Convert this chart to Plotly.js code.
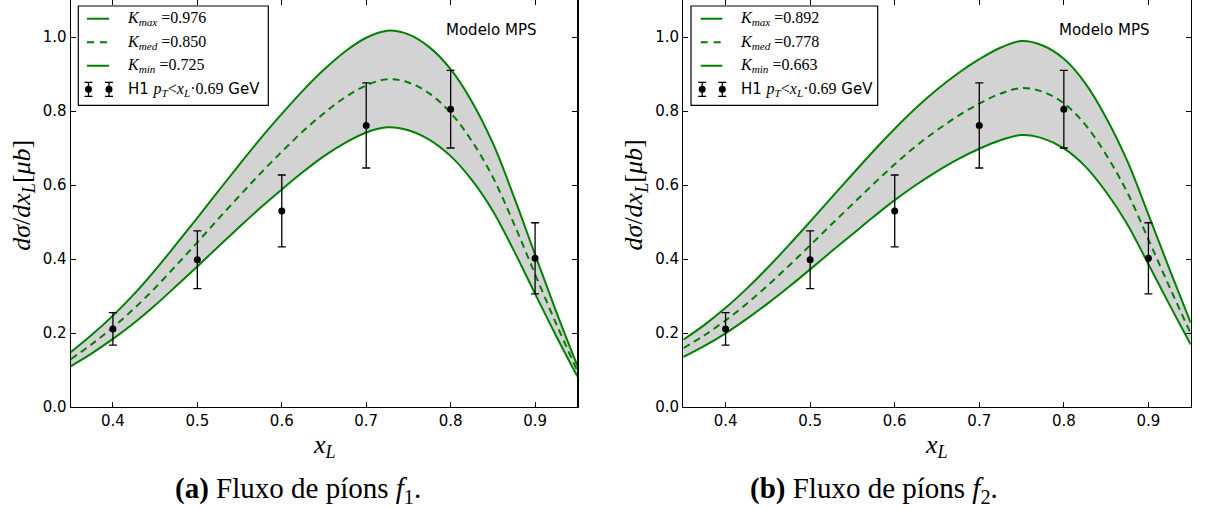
<!DOCTYPE html>
<html>
<head>
<meta charset="utf-8">
<script src="https://cdn.plot.ly/plotly-3.0.1.min.js"></script>
<style>html,body{margin:0;padding:0;background:#fff;}#chart{width:1207px;height:508px;}</style>
</head>
<body>
<div id="chart"></div>
<script>
// ---- data ----
const xGrid = [0.35,0.375,0.40,0.425,0.45,0.475,0.50,0.525,0.55,0.575,0.60,0.625,0.65,0.675,0.70,0.725,0.75,0.775,0.80,0.825,0.85,0.875,0.90,0.925,0.95];
const upperA = [0.148,0.195,0.247,0.305,0.370,0.440,0.511,0.584,0.656,0.726,0.792,0.855,0.912,0.961,0.998,1.017,1.007,0.972,0.913,0.826,0.713,0.568,0.412,0.258,0.112];
const medA   = [0.129,0.170,0.215,0.266,0.322,0.383,0.445,0.509,0.571,0.632,0.690,0.745,0.794,0.837,0.869,0.886,0.877,0.847,0.795,0.719,0.621,0.495,0.359,0.225,0.098];
const lowerA = [0.110,0.145,0.184,0.227,0.275,0.327,0.380,0.434,0.487,0.539,0.588,0.635,0.678,0.714,0.742,0.756,0.748,0.722,0.678,0.614,0.530,0.422,0.306,0.192,0.083];
const upperB = [0.182,0.222,0.268,0.320,0.377,0.438,0.501,0.565,0.629,0.692,0.752,0.808,0.858,0.902,0.940,0.971,0.989,0.977,0.941,0.876,0.782,0.665,0.520,0.372,0.228];
const medB   = [0.159,0.194,0.234,0.279,0.329,0.382,0.437,0.493,0.548,0.603,0.656,0.705,0.748,0.787,0.820,0.847,0.862,0.852,0.821,0.764,0.682,0.580,0.453,0.324,0.199];
const lowerB = [0.135,0.165,0.199,0.238,0.280,0.325,0.372,0.420,0.467,0.514,0.559,0.600,0.637,0.670,0.698,0.721,0.735,0.726,0.699,0.651,0.581,0.494,0.386,0.276,0.169];
const h1X = [0.4,0.5,0.6,0.7,0.8,0.9];
const h1Y = [0.211,0.398,0.530,0.761,0.805,0.402];
const h1Err = [0.044,0.078,0.097,0.115,0.105,0.096];
const kValuesA = ['0.976','0.850','0.725'];
const kValuesB = ['0.892','0.778','0.663'];
const kNames = ['max','med','min'];
const xTicks = [0.4,0.5,0.6,0.7,0.8,0.9];
const yTicks = [0.0,0.2,0.4,0.6,0.8,1.0];
const captions = ['<b>(a)</b> Fluxo de píons <i>f</i><sub>1</sub>.', '<b>(b)</b> Fluxo de píons <i>f</i><sub>2</sub>.'];
const modelLabel = 'Modelo MPS';

// ---- geometry helpers (pixel -> paper) ----
const W = 1207, PH = 406.7;
const px = v => v / W;
const py = v => 1 - v / PH;
const GREEN = '#008000';
const SERIF = '"Liberation Serif", "DejaVu Serif", serif';
const SANS = '"DejaVu Sans", "Liberation Sans", sans-serif';

function panelTraces(xa, ya, up, md, lo) {
  return [
    {x: xGrid, y: lo, xaxis: xa, yaxis: ya, type: 'scatter', mode: 'lines', line: {color: GREEN, width: 2, shape: 'spline'}, showlegend: false, hoverinfo: 'skip'},
    {x: xGrid, y: up, xaxis: xa, yaxis: ya, type: 'scatter', mode: 'lines', fill: 'tonexty', fillcolor: '#d3d3d3', line: {color: GREEN, width: 2, shape: 'spline'}, showlegend: false},
    {x: xGrid, y: md, xaxis: xa, yaxis: ya, type: 'scatter', mode: 'lines', line: {color: GREEN, width: 2, dash: '7px,5px', shape: 'spline'}, showlegend: false},
    {x: h1X, y: h1Y, xaxis: xa, yaxis: ya, type: 'scatter', mode: 'markers', marker: {color: 'black', size: 7},
     error_y: {type: 'data', array: h1Err, visible: true, color: 'black', thickness: 1.3, width: 4}, showlegend: false}
  ];
}

const data = [].concat(panelTraces('x', 'y', upperA, medA, lowerA), panelTraces('x2', 'y2', upperB, medB, lowerB));

const axisStyle = {
  showline: true, linecolor: 'black', linewidth: 1.2, mirror: 'allticks',
  ticks: 'inside', ticklen: 5, tickwidth: 1, tickcolor: 'black',
  showgrid: false, zeroline: false, tickformat: '.1f',
  tickfont: {family: SANS, size: 15, color: 'black'}
};

const shapes = [];
const annotations = [];

function addPanelDecor(x0, x1, kVals, legBox, sampleX, textX, caption) {
  // legend box
  shapes.push({type: 'rect', xref: 'paper', yref: 'paper', x0: px(legBox[0]), x1: px(legBox[1]), y0: py(legBox[3]), y1: py(legBox[2]),
    line: {color: 'black', width: 1.2}, fillcolor: 'white', layer: 'above'});
  const rows = [18.7, 42.3, 65.7, 89.3];
  for (let i = 0; i < 3; i++) {
    shapes.push({type: 'line', xref: 'paper', yref: 'paper', x0: px(sampleX[0]), x1: px(sampleX[1]), y0: py(rows[i]), y1: py(rows[i]),
      line: {color: GREEN, width: 2, dash: i === 1 ? '7px,6px' : 'solid'}, layer: 'above'});
    annotations.push({xref: 'paper', yref: 'paper', x: px(textX), y: py(rows[i]), xanchor: 'left', yanchor: 'middle', showarrow: false,
      text: '<i>K</i><sub><i>' + kNames[i] + '</i></sub> =' + kVals[i], font: {family: SERIF, size: 16, color: 'black'}});
  }
  // data legend sample: two markers with error bars
  [sampleX[0] + 1.5, sampleX[1]].forEach(cx => {
    shapes.push({type: 'line', xref: 'paper', yref: 'paper', x0: px(cx), x1: px(cx), y0: py(rows[3] - 7), y1: py(rows[3] + 7), line: {color: 'black', width: 1.3}, layer: 'above'});
    shapes.push({type: 'line', xref: 'paper', yref: 'paper', x0: px(cx - 4), x1: px(cx + 4), y0: py(rows[3] - 7), y1: py(rows[3] - 7), line: {color: 'black', width: 1.3}, layer: 'above'});
    shapes.push({type: 'line', xref: 'paper', yref: 'paper', x0: px(cx - 4), x1: px(cx + 4), y0: py(rows[3] + 7), y1: py(rows[3] + 7), line: {color: 'black', width: 1.3}, layer: 'above'});
    shapes.push({type: 'circle', xref: 'paper', yref: 'paper', x0: px(cx - 3.5), x1: px(cx + 3.5), y0: py(rows[3] + 3.5), y1: py(rows[3] - 3.5), fillcolor: 'black', line: {color: 'black', width: 0}, layer: 'above'});
  });
  annotations.push({xref: 'paper', yref: 'paper', x: px(textX + 1), y: py(rows[3]), xanchor: 'left', yanchor: 'middle', showarrow: false,
    text: 'H1 <span style="font-family:Liberation Serif;font-size:16px"><i>p</i><sub><i>T</i></sub>&lt;<i>x</i><sub><i>L</i></sub>·0.69</span> GeV',
    font: {family: SANS, size: 15, color: 'black'}});
  // model label
  annotations.push({xref: 'paper', yref: 'paper', x: px(x1 - 86), y: py(30), xanchor: 'center', yanchor: 'middle', showarrow: false,
    text: modelLabel, font: {family: SANS, size: 15, color: 'black'}});
  // axis titles
  annotations.push({xref: 'paper', yref: 'paper', x: px((x0 + x1) / 2), y: py(446), xanchor: 'center', yanchor: 'middle', showarrow: false,
    text: '<i>x</i><sub><i>L</i></sub>', font: {family: SERIF, size: 26, color: 'black'}});
  annotations.push({xref: 'paper', yref: 'paper', x: px(x0 - 48), y: py(195), xanchor: 'center', yanchor: 'middle', showarrow: false, textangle: -90,
    text: '<i>dσ</i>/<i>dx</i><sub><i>L</i></sub>[<i>μb</i>]', font: {family: SERIF, size: 26, color: 'black'}});
  // caption
  annotations.push({xref: 'paper', yref: 'paper', x: px(caption[1]), y: py(490), xanchor: 'center', yanchor: 'middle', showarrow: false,
    text: caption[0], font: {family: SERIF, size: 29, color: 'black'}});
}

const xA = [70.7, 577.3], xB = [683.3, 1190.7];
addPanelDecor(xA[0], xA[1], kValuesA, [78.3, 268.3, 6, 105.3], [87, 109], 125, [captions[0], 298]);
addPanelDecor(xB[0], xB[1], kValuesB, [691, 877.7, 6, 105.3], [700.7, 722.3], 738.3, [captions[1], 874]);

const layout = {
  width: 1207, height: 508,
  margin: {l: 0, r: 0, t: 0, b: 508 - PH, pad: 0},
  paper_bgcolor: 'white', plot_bgcolor: 'white',
  showlegend: false,
  xaxis: Object.assign({}, axisStyle, {domain: [px(xA[0]), px(xA[1])], range: [0.35, 0.95], tickvals: xTicks, anchor: 'y'}),
  yaxis: Object.assign({}, axisStyle, {domain: [0, 1], range: [0, 1.1], tickvals: yTicks, anchor: 'x'}),
  xaxis2: Object.assign({}, axisStyle, {domain: [px(xB[0]), px(xB[1])], range: [0.35, 0.95], tickvals: xTicks, anchor: 'y2'}),
  yaxis2: Object.assign({}, axisStyle, {domain: [0, 1], range: [0, 1.1], tickvals: yTicks, anchor: 'x2'}),
  shapes: shapes,
  annotations: annotations
};

Plotly.newPlot('chart', data, layout, {displayModeBar: false, staticPlot: true});
</script>
</body>
</html>
